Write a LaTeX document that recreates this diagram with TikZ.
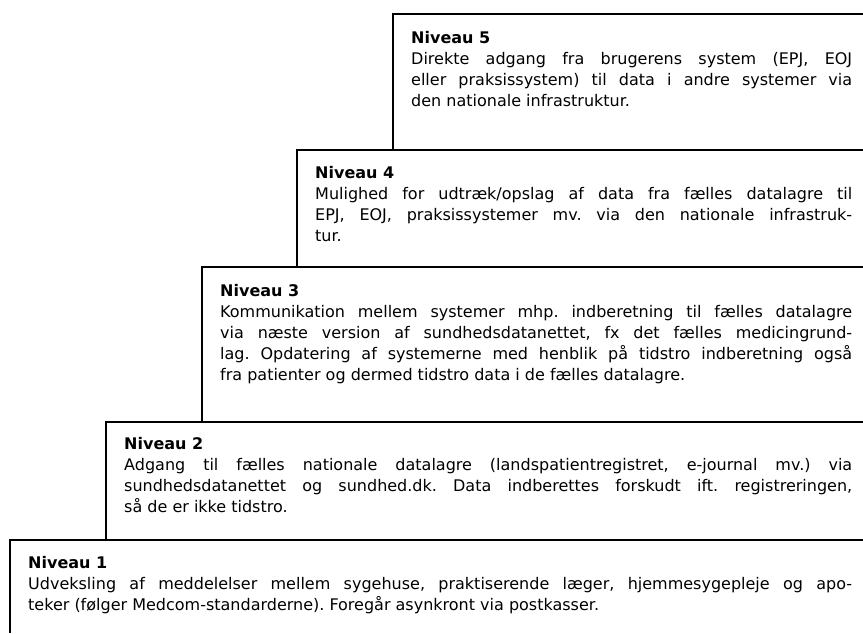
\documentclass[tikz,border=0pt]{standalone}
\usepackage{fontspec}
\setmainfont{DejaVu Sans}
\usetikzlibrary{positioning}
\frenchspacing

\begin{document}
\begin{tikzpicture}[
    x=1pt, y=-1pt,
    stair line/.style={draw=black, line width=1.6pt},
    level text/.style={anchor=north west, inner sep=0pt, align=justify,
        font=\fontsize{16}{21}\selectfont}
]
\useasboundingbox (0,0) rectangle (863,633);

% Corners of the steps
\coordinate (c5) at (393,14);
\coordinate (c4) at (297,150);
\coordinate (c3) at (202,267);
\coordinate (c2) at (106,422);
\coordinate (c1) at (10,540);
\coordinate (edge) at (863,633);

% Niveau 5
\draw[stair line] (c5 |- c4) -- (c5) -- (c5 -| edge);
\node[level text, text width=441pt] (niveau5) at (411,31)
    {\textbf{Niveau 5}\\
     Direkte adgang fra brugerens system (EPJ, EOJ\linebreak
     eller praksissystem) til data i andre systemer via\linebreak
     den nationale infrastruktur.};

% Niveau 4
\draw[stair line] (c4 |- c3) -- (c4) -- (c4 -| edge);
\node[level text, text width=537pt] (niveau4) at (315,166)
    {\textbf{Niveau 4}\\
     Mulighed for udtræk/opslag af data fra fælles datalagre til\linebreak
     EPJ, EOJ, praksissystemer mv. via den nationale infrastruk-\linebreak
     tur.};

% Niveau 3
\draw[stair line] (c3 |- c2) -- (c3) -- (c3 -| edge);
\node[level text, text width=632pt] (niveau3) at (220,284)
    {\textbf{Niveau 3}\\
     Kommunikation mellem systemer mhp. indberetning til fælles datalagre\linebreak
     via næste version af sundhedsdatanettet, fx det fælles medicingrund-\linebreak
     lag. Opdatering af systemerne med henblik på tidstro indberetning også\linebreak
     fra patienter og dermed tidstro data i de fælles datalagre.};

% Niveau 2
\draw[stair line] (c2 |- c1) -- (c2) -- (c2 -| edge);
\node[level text, text width=728pt] (niveau2) at (124,437)
    {\textbf{Niveau 2}\\
     Adgang til fælles nationale datalagre (landspatientregistret, e-journal mv.) via\linebreak
     sundhedsdatanettet og sundhed.dk. Data indberettes forskudt ift. registreringen,\linebreak
     så de er ikke tidstro.};

% Niveau 1
\draw[stair line] (c1 |- edge) -- (c1) -- (c1 -| edge);
\node[level text, text width=824pt] (niveau1) at (28,556)
    {\textbf{Niveau 1}\\
     Udveksling af meddelelser mellem sygehuse, praktiserende læger, hjemmesygepleje og apo-\linebreak
     teker (følger Medcom-standarderne). Foregår asynkront via postkasser.};

\end{tikzpicture}
\end{document}
